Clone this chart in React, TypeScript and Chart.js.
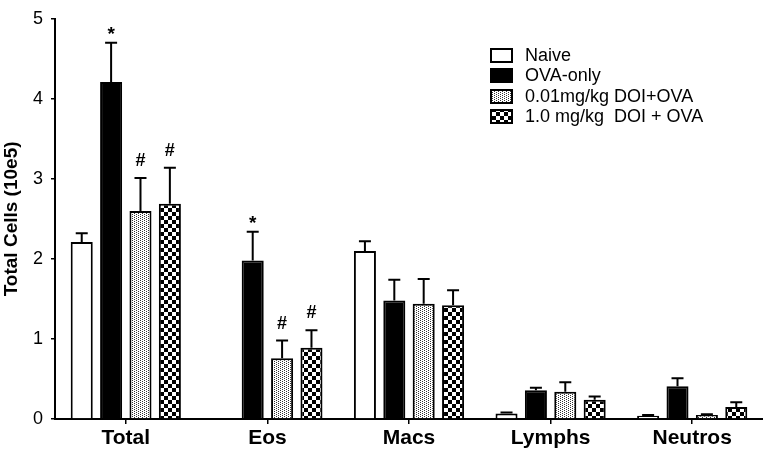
import React, { useEffect, useRef } from 'react';
import { Chart, registerables } from 'chart.js';
Chart.register(...registerables);

const categories = ['Total', 'Eos', 'Macs', 'Lymphs', 'Neutros'];
const seriesNames = ['Naive', 'OVA-only', '0.01mg/kg DOI+OVA', '1.0 mg/kg  DOI + OVA'];

const naive = [2.21, 0.01, 2.1, 0.07, 0.04];
const naiveErr = [0.11, 0, 0.12, 0.01, 0.01];
const ovaOnly = [4.21, 1.98, 1.48, 0.36, 0.41];
const ovaOnlyErr = [0.49, 0.36, 0.26, 0.03, 0.1];
const lowDose = [2.6, 0.76, 1.44, 0.34, 0.05];
const lowDoseErr = [0.41, 0.22, 0.31, 0.12, 0.01];
const highDose = [2.69, 0.89, 1.42, 0.24, 0.15];
const highDoseErr = [0.45, 0.22, 0.19, 0.04, 0.06];

const naiveMarks = ['', '', '', '', ''];
const ovaOnlyMarks = ['*', '*', '', '', ''];
const lowDoseMarks = ['#', '#', '', '', ''];
const highDoseMarks = ['#', '#', '', '', ''];

const yTicks = [0, 1, 2, 3, 4, 5];

const FONT = '"Liberation Sans", Arial, Helvetica, sans-serif';

function makeDots(): CanvasPattern | string {
  const c = document.createElement('canvas');
  c.width = 4;
  c.height = 2;
  const g = c.getContext('2d');
  if (!g) return '#ccc';
  g.fillStyle = '#fff';
  g.fillRect(0, 0, 4, 2);
  g.fillStyle = '#333';
  g.fillRect(0, 0, 1, 1);
  g.fillRect(2, 1, 1, 1);
  return g.createPattern(c, 'repeat') as CanvasPattern;
}

function makeChecks(): CanvasPattern | string {
  const c = document.createElement('canvas');
  c.width = 8;
  c.height = 8;
  const g = c.getContext('2d');
  if (!g) return '#666';
  g.fillStyle = '#fff';
  g.fillRect(0, 0, 8, 8);
  g.fillStyle = '#000';
  g.fillRect(0, 0, 4, 4);
  g.fillRect(4, 4, 4, 4);
  return g.createPattern(c, 'repeat') as CanvasPattern;
}

export default function App() {
  const ref = useRef<HTMLCanvasElement>(null);

  useEffect(() => {
    document.body.style.margin = '0';
    const canvas = ref.current;
    if (!canvas) return;
    const dots = makeDots();
    const checks = makeChecks();
    const fills = ['#ffffff', '#000000', dots, checks];
    const errs = [naiveErr, ovaOnlyErr, lowDoseErr, highDoseErr];
    const marks = [naiveMarks, ovaOnlyMarks, lowDoseMarks, highDoseMarks];

    const errorBars = {
      id: 'errorBars',
      afterDatasetsDraw(chart: any) {
        const ctx = chart.ctx;
        const y = chart.scales.y;
        ctx.save();
        ctx.strokeStyle = '#000';
        ctx.lineWidth = 2;
        chart.data.datasets.forEach((ds: any, di: number) => {
          const meta = chart.getDatasetMeta(di);
          meta.data.forEach((bar: any, i: number) => {
            const e = errs[di][i];
            const v = ds.data[i];
            if (e > 0) {
              const top = y.getPixelForValue(v + e);
              ctx.beginPath();
              ctx.moveTo(bar.x, bar.y);
              ctx.lineTo(bar.x, top);
              ctx.moveTo(bar.x - 6, top);
              ctx.lineTo(bar.x + 6, top);
              ctx.stroke();
            }
            const m = marks[di][i];
            if (m) {
              const top = y.getPixelForValue(v + e);
              ctx.fillStyle = '#000';
              ctx.textAlign = 'center';
              ctx.textBaseline = 'alphabetic';
              if (m === '*') {
                ctx.font = `bold 19px ${FONT}`;
                ctx.fillText(m, bar.x, top - 3);
              } else {
                ctx.font = `bold 18px ${FONT}`;
                ctx.fillText(m, bar.x, top - 12);
              }
            }
          });
        });
        ctx.restore();
      },
    };

    const legendPlugin = {
      id: 'customLegend',
      afterDraw(chart: any) {
        const ctx = chart.ctx;
        ctx.save();
        const rows = [55, 75, 96, 116];
        seriesNames.forEach((name, i) => {
          const cy = rows[i];
          ctx.fillStyle = fills[i] as any;
          ctx.fillRect(491, cy - 6, 21, 13);
          ctx.strokeStyle = '#000';
          ctx.lineWidth = 2;
          ctx.strokeRect(491, cy - 6, 21, 13);
          ctx.fillStyle = '#000';
          ctx.font = `18px ${FONT}`;
          ctx.textAlign = 'left';
          ctx.textBaseline = 'middle';
          ctx.fillText(name, 525, cy + 1);
        });
        ctx.restore();
      },
    };

    const datasets = [naive, ovaOnly, lowDose, highDose].map((d, i) => ({
      label: seriesNames[i],
      data: d,
      backgroundColor: fills[i] as any,
      borderColor: '#000',
      borderWidth: 2,
      borderSkipped: 'bottom' as const,
      categoryPercentage: 0.83,
      barPercentage: 0.75,
    }));

    const chart = new Chart(canvas, {
      type: 'bar',
      data: { labels: categories, datasets },
      options: {
        responsive: false,
        animation: false,
        events: [],
        layout: { padding: { top: 7, right: 0, left: 0, bottom: 0 } },
        plugins: { legend: { display: false }, tooltip: { enabled: false } },
        scales: {
          x: {
            grid: { display: true, offset: false, drawOnChartArea: false, drawTicks: true, tickLength: 5, color: '#000', lineWidth: 1.5 },
            border: { display: true, color: '#000', width: 2 },
            ticks: { color: '#000', font: { family: FONT, size: 21, weight: 'bold' }, padding: 2, maxRotation: 0 },
            afterFit: (s: any) => { s.height = 31; },
          },
          y: {
            min: 0,
            max: 5,
            afterBuildTicks: (s: any) => { s.ticks = yTicks.map((v) => ({ value: v })); },
            grid: { display: true, drawOnChartArea: false, drawTicks: true, tickLength: 4, color: '#000', lineWidth: 1.5 },
            border: { display: true, color: '#000', width: 2 },
            ticks: { color: '#000', font: { family: FONT, size: 18 }, padding: 8 },
            title: { display: true, text: 'Total Cells (10e5)', color: '#000', font: { family: FONT, size: 19, weight: 'bold' }, padding: { top: 0, bottom: 2 } },
            afterFit: (s: any) => { s.width = 55; },
          },
        },
      },
      plugins: [errorBars, legendPlugin],
    });
    return () => chart.destroy();
  }, []);

  return (
    <div style={{ width: 763, height: 450, background: '#fff' }}>
      <canvas ref={ref} width={763} height={450} style={{ display: 'block' }} />
    </div>
  );
}
